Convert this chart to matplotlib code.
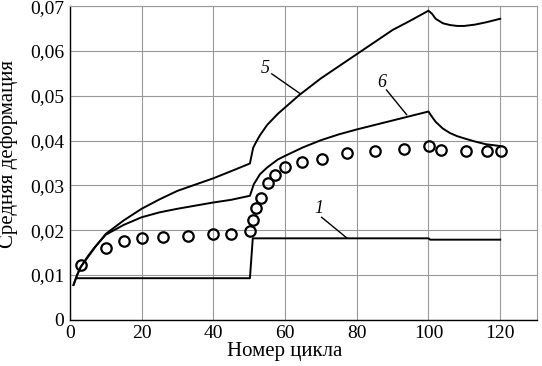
import matplotlib.pyplot as plt
import matplotlib.ticker as mticker

plt.rcParams['font.family'] = ['Liberation Serif', 'DejaVu Serif']

# curve 1
c1_x = [1.8, 50.2, 51.0, 100.0, 100.5, 120]
c1_y = [0.0093, 0.0093, 0.0182, 0.0182, 0.0179, 0.0179]

# curve 5
c5_x = [1, 2, 3, 5, 7, 10, 15, 20, 25, 30, 35, 40, 45, 50.2,
        51.1, 52, 53, 55, 58, 60, 64, 70, 75, 80, 85, 90, 95, 100,
        101, 102, 104, 106, 108, 110, 113, 116, 120]
c5_y = [0.0078, 0.0100, 0.0118, 0.0140, 0.0162, 0.0192, 0.0222, 0.0248, 0.0269,
        0.0288, 0.0302, 0.0316, 0.0332, 0.0349,
        0.0384, 0.0398, 0.0412, 0.0435, 0.0460, 0.0474, 0.0502, 0.0539, 0.0566,
        0.0593, 0.0620, 0.0647, 0.0668, 0.0690,
        0.0683, 0.0672, 0.0662, 0.0658, 0.0656, 0.0656, 0.0659, 0.0664, 0.0672]

# curve 6
c6_x = [1, 2, 3, 5, 7, 10, 15, 20, 25, 30, 35, 40, 45, 50.2,
        51.3, 53, 55, 58, 60, 65, 70, 75, 80, 85, 90, 95, 100,
        101, 102, 104, 106, 108, 110, 113, 116, 120]
c6_y = [0.0078, 0.0100, 0.0118, 0.0142, 0.0163, 0.0190, 0.0212, 0.0229, 0.0240,
        0.0248, 0.0255, 0.0262, 0.0268, 0.0277,
        0.0303, 0.0325, 0.0340, 0.0358, 0.0366, 0.0385, 0.0401, 0.0414, 0.0425,
        0.0435, 0.0445, 0.0455, 0.0465,
        0.0453, 0.0442, 0.0427, 0.0417, 0.0410, 0.0405, 0.0398, 0.0392, 0.0388]

# experimental points
pts_x = [3, 10, 15, 20, 26, 33, 40, 45, 50.2, 51.1, 52, 53.2, 55.3, 57.2,
         60, 64.8, 70.2, 77.2, 85.1, 93.2, 100.2, 103.4, 110.4, 116.4, 120.1]
pts_y = [0.0123, 0.0161, 0.0175, 0.0182, 0.0185, 0.0188, 0.0191, 0.0192, 0.0199,
         0.0222, 0.0250, 0.0271, 0.0305, 0.0323,
         0.0342, 0.0352, 0.0360, 0.0373, 0.0378, 0.0382, 0.0388, 0.0380, 0.0378,
         0.0378, 0.0378]

fig = plt.figure(figsize=(5.42, 3.66), dpi=100)
ax = fig.add_axes([0.129, 0.126, 0.862, 0.857])

ax.plot(c1_x, c1_y, color='black', lw=1.4)
ax.plot(c5_x, c5_y, color='black', lw=1.4)
ax.plot(c6_x, c6_y, color='black', lw=1.4)
ax.plot(pts_x, pts_y, 'o', ms=7.5, mfc='none', mec='black', mew=1.6)

# curve labels with leader lines
ax.plot([56.3, 64.2], [0.0549, 0.0505], color='black', lw=1.0)
ax.text(54.5, 0.0560, '5', style='italic', fontsize=13, ha='center', va='center')
ax.plot([88.3, 93.9], [0.0513, 0.0458], color='black', lw=1.0)
ax.text(86.9, 0.0530, '6', style='italic', fontsize=13, ha='center', va='center')
ax.plot([70.2, 77.2], [0.0229, 0.0183], color='black', lw=1.0)
ax.text(69.3, 0.0249, '1', style='italic', fontsize=13, ha='center', va='center')

ax.set_xlim(0, 130.3)
ax.set_ylim(0, 0.07)
ax.set_xticks(range(0, 121, 20))
ax.set_yticks([0, 0.01, 0.02, 0.03, 0.04, 0.05, 0.06, 0.07])
ax.yaxis.set_major_formatter(mticker.FuncFormatter(
    lambda v, p: '0' if v == 0 else f'{v:.2f}'.replace('.', ',')))
ax.tick_params(length=0, labelsize=14, pad=4)
ax.grid(True, color='#999999', lw=0.8)
ax.spines[['top', 'right']].set_color('#999999')
ax.spines[['left', 'bottom']].set_linewidth(1.0)

ax.set_xlabel('Номер цикла', fontsize=15, labelpad=2)
ax.xaxis.set_label_coords(0.46, -0.07)
ax.set_ylabel('Средняя деформация', fontsize=15, labelpad=6)
ax.yaxis.set_label_coords(-0.111, 0.53)

plt.savefig('out.png', dpi=100)
